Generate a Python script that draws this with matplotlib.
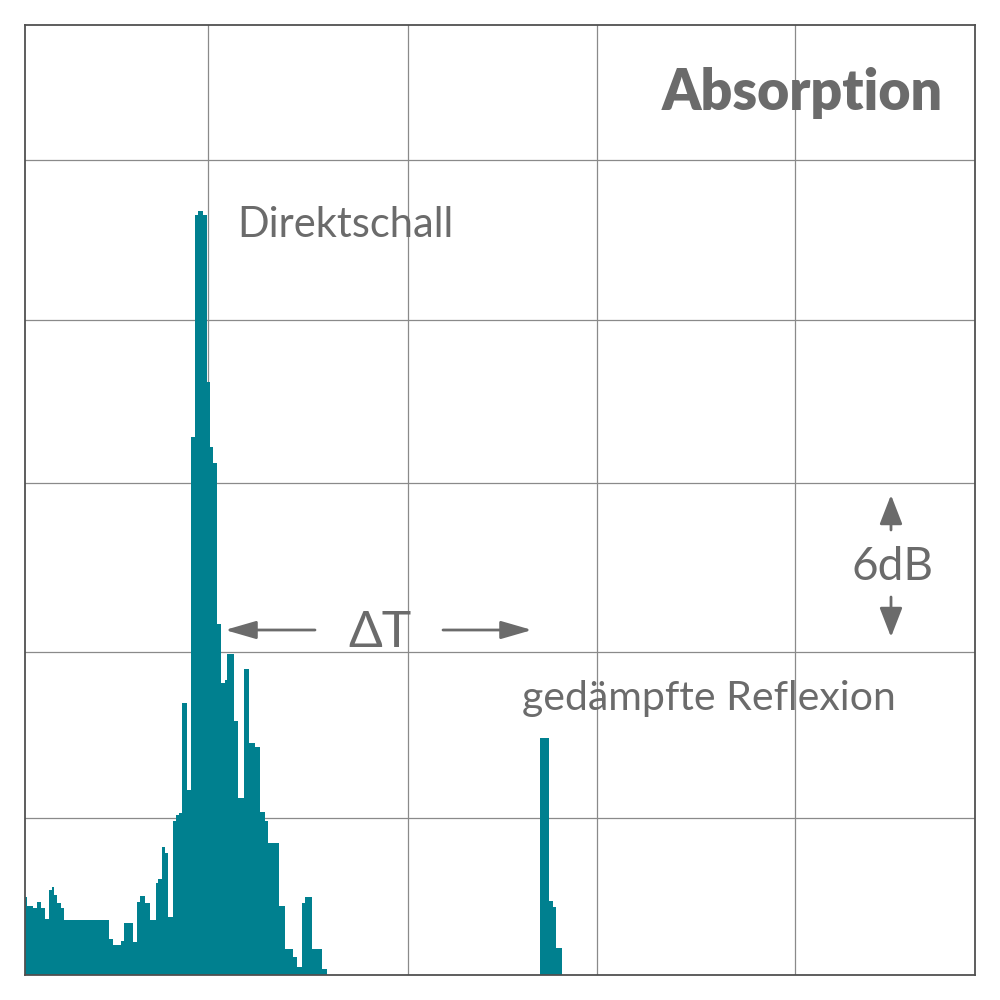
import numpy as np
import matplotlib
matplotlib.use('Agg')
from matplotlib import pyplot as plt

plt.rcParams['font.family'] = ['Lato', 'DejaVu Sans']

# values (pixel units, 0..950 on both axes)
direct_edges = [0, 2.3, 7.7, 12.3, 15.7, 20, 24.3, 26.7, 29.3, 32.3, 35.7, 39, 84.3, 87.7, 95.7,
                99, 107.7, 111.7, 115, 120, 125, 131, 133.3, 136.7, 140, 143.3, 147.7, 151, 154,
                157, 162, 166, 170, 173, 178, 182, 185, 188, 192, 196, 199.5, 202, 209, 213,
                218.5, 224, 230, 234.5, 239.5, 243.3, 254.3, 260, 268.3, 272.3, 276.7, 280,
                286.7, 296.7, 301.7]
direct_level = [78, 69, 67, 73, 67, 56, 85, 88, 80, 72, 67, 55, 36, 30, 34,
                52, 33, 73, 79, 72, 55, 92, 96, 128, 122, 58, 154, 160, 162,
                272, 185, 538, 760, 764, 760, 593, 528, 512, 351, 292, 295, 321, 254, 177,
                306, 232, 228, 163, 154, 132, 69, 26, 18, 8, 72, 78, 26, 6]

refl_edges = [515, 524, 528, 531, 537]
refl_level = [237, 74, 68, 27]

grid_x = [183, 383, 572, 770]
grid_y = [157, 323, 492, 655, 815]

teal = '#00808f'
grey = '#6b6b6b'

fig = plt.figure(figsize=(10, 10), dpi=100)
ax = fig.add_axes([0.025, 0.025, 0.95, 0.95])
ax.set_xlim(0, 950)
ax.set_ylim(0, 950)

for gx in grid_x:
    ax.axvline(gx, color='#8a8a8a', lw=0.9, zorder=1)
for gy in grid_y:
    ax.axhline(gy, color='#8a8a8a', lw=0.9, zorder=1)

ax.stairs(direct_level, direct_edges, fill=True, color=teal, lw=0, zorder=2)
ax.stairs(refl_level, refl_edges, fill=True, color=teal, lw=0, zorder=2)

ax.set_xticks([])
ax.set_yticks([])
for s in ax.spines.values():
    s.set_color('#505050')
    s.set_linewidth(1.3)

ax.text(918, 865, 'Absorption', fontsize=40, fontweight='heavy', color=grey, ha='right', va='baseline')
ax.text(212.7, 738, 'Direktschall', fontsize=30, color=grey, ha='left', va='baseline')
ax.text(496.7, 265, 'gedämpfte Reflexion', fontsize=29.5, color=grey, ha='left', va='baseline')
ax.text(355, 328, 'ΔT', fontsize=36, color=grey, ha='center', va='baseline')
ax.text(867, 395, '6dB', fontsize=33, color=grey, ha='center', va='baseline')

h_arrow = dict(arrowstyle='-|>, head_length=1.9, head_width=0.55', mutation_scale=10,
               color=grey, lw=2, shrinkA=0, shrinkB=0)
v_arrow = dict(arrowstyle='-|>, head_length=1.8, head_width=0.7', mutation_scale=10,
               color=grey, lw=2, shrinkA=0, shrinkB=0)
ax.annotate('', xy=(200, 345), xytext=(290, 345), arrowprops=h_arrow)
ax.annotate('', xy=(507, 345), xytext=(418, 345), arrowprops=h_arrow)
ax.annotate('', xy=(866, 480), xytext=(866, 445), arrowprops=v_arrow)
ax.annotate('', xy=(866, 338), xytext=(866, 378), arrowprops=v_arrow)

fig.savefig('out.png', dpi=100, facecolor='white')
